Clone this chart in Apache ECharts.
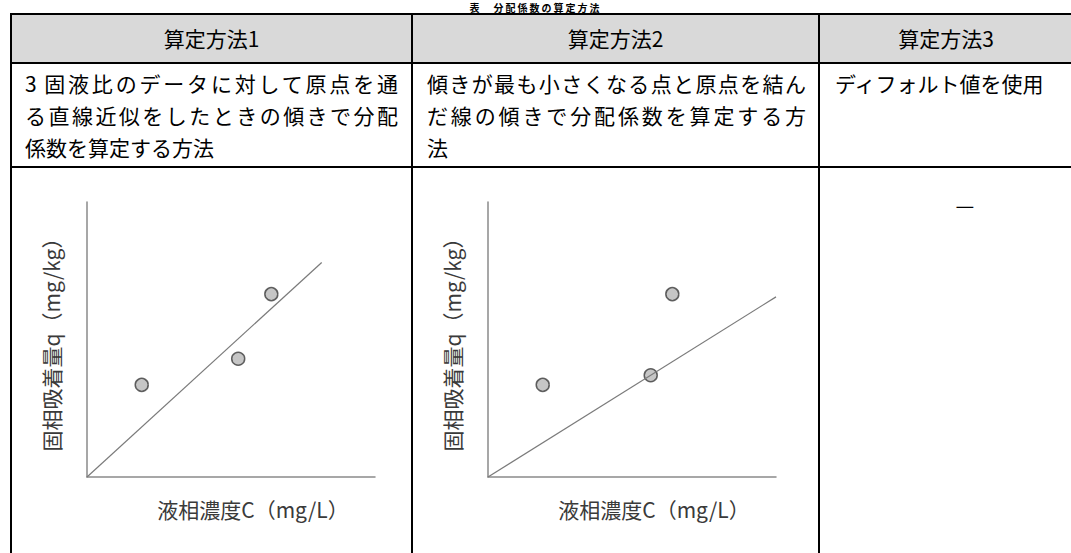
<!DOCTYPE html>
<html lang="ja">
<head>
<meta charset="utf-8">
<script src="https://cdn.jsdelivr.net/npm/echarts@6/dist/echarts.min.js"></script>
<style>
  html, body { margin: 0; padding: 0; background: #fff; }
  body { position: relative; width: 1071px; height: 553px; overflow: hidden;
         font-family: "Noto Sans CJK JP", sans-serif; color: #000; }
  .hline { position: absolute; left: 10px; right: 0; height: 2px; background: #000; }
  .vline { position: absolute; top: 13px; bottom: 0; width: 2px; background: #000; }
  .headbg { position: absolute; left: 12px; right: 0; top: 15px; height: 47px; background: #d9d9d9; }
  .txt { position: absolute; font-size: 21px; line-height: 32px; height: 32px; white-space: nowrap; }
  .just { text-align: justify; text-align-last: justify; }
  .center { text-align: center; }
  #title { position: absolute; left: 0; width: 1071px; top: 1px; font-size: 10px; line-height: 13px;
           text-align: center; font-weight: bold; letter-spacing: 2px; white-space: nowrap; }
  #chart { position: absolute; left: 0; top: 0; width: 1071px; height: 553px; }
</style>
</head>
<body>
<div id="title"></div>
<div class="headbg"></div>
<div class="hline" style="top:13px"></div>
<div class="hline" style="top:62px"></div>
<div class="hline" style="top:166px"></div>
<div class="vline" style="left:10px"></div>
<div class="vline" style="left:411px"></div>
<div class="vline" style="left:818px"></div>
<div id="cells"></div>
<div id="chart"></div>
<script>
// table texts
const titleText = '表　分配係数の算定方法';
const methodNames = ['算定方法1', '算定方法2', '算定方法3'];
const method1Lines = ['3 固液比のデータに対して原点を通', 'る直線近似をしたときの傾きで分配', '係数を算定する方法'];
const method2Lines = ['傾きが最も小さくなる点と原点を結ん', 'だ線の傾きで分配係数を算定する方', '法'];
const method3Lines = ['ディフォルト値を使用'];
const method3Chart = '—';

// chart values (arbitrary units, axes 0..10, no ticks)
const axisMax = 10;
const method1C = [1.9, 5.25, 6.4];
const method1Q = [3.35, 4.3, 6.65];
const method1FitC = [0, 8.15];
const method1FitQ = [0, 7.8];
const method2C = [1.9, 5.65, 6.4];
const method2Q = [3.35, 3.7, 6.65];
const method2FitC = [0, 10];
const method2FitQ = [0, 6.55];
const xName = '液相濃度C（mg/L）';
const yName = '固相吸着量q（mg/kg）';

document.getElementById('title').textContent = titleText;

const cells = document.getElementById('cells');
function addText(text, left, width, top, cls) {
  const d = document.createElement('div');
  d.className = 'txt ' + (cls || '');
  d.style.left = left + 'px';
  d.style.top = top + 'px';
  if (width) d.style.width = width + 'px';
  d.textContent = text;
  cells.appendChild(d);
}
const colLeft = [11, 412, 819];
const colRight = [412, 819, 1073];
methodNames.forEach((name, i) => {
  addText(name, colLeft[i], colRight[i] - colLeft[i], 22, 'center');
});
function addLines(lines, left, width) {
  lines.forEach((s, i) => {
    addText(s, left, width, 67 + i * 32, i < lines.length - 1 ? 'just' : '');
  });
}
addLines(method1Lines, 25, 373);
addLines(method2Lines, 427, 379);
addLines(method3Lines, 835, 0);
addText(method3Chart, 905, 120, 188, 'center');

const chart = echarts.init(document.getElementById('chart'), null, { renderer: 'svg' });

const axisLine = { show: true, lineStyle: { color: '#8a8a8a', width: 1.5 } };
const nameStyle = { color: '#3a3a3a', fontSize: 21, fontFamily: '"Noto Sans CJK JP", sans-serif' };

function makeAxes(gridIndex) {
  return {
    x: {
      type: 'value', gridIndex, min: 0, max: axisMax,
      axisLine, axisTick: { show: false }, axisLabel: { show: false }, splitLine: { show: false },
      name: xName, nameLocation: 'middle', nameGap: 21,
      nameTextStyle: Object.assign({ padding: [0, 0, 0, 44] }, nameStyle)
    },
    y: {
      type: 'value', gridIndex, min: 0, max: axisMax,
      axisLine, axisTick: { show: false }, axisLabel: { show: false }, splitLine: { show: false },
      name: yName, nameLocation: 'middle', nameGap: 26,
      nameTextStyle: nameStyle
    }
  };
}
const a0 = makeAxes(0);
const a1 = makeAxes(1);

function pairs(xs, ys) {
  return xs.map((x, i) => [x, ys[i]]);
}
const pointStyle = { color: '#b8b8b8', borderColor: '#3c3c3c', borderWidth: 1.5 };
const fitStyle = { color: '#7a7a7a', width: 1.2 };

chart.setOption({
  animation: false,
  grid: [
    { left: 87, top: 202, width: 288, height: 275 },
    { left: 488, top: 202, width: 288, height: 275 }
  ],
  xAxis: [a0.x, a1.x],
  yAxis: [a0.y, a1.y],
  series: [
    { type: 'line', xAxisIndex: 0, yAxisIndex: 0, data: pairs(method1FitC, method1FitQ),
      symbol: 'none', lineStyle: fitStyle, silent: true },
    { type: 'scatter', xAxisIndex: 0, yAxisIndex: 0, data: pairs(method1C, method1Q),
      symbolSize: 13, itemStyle: pointStyle },
    { type: 'line', xAxisIndex: 1, yAxisIndex: 1, data: pairs(method2FitC, method2FitQ),
      symbol: 'none', lineStyle: fitStyle, silent: true },
    { type: 'scatter', xAxisIndex: 1, yAxisIndex: 1, data: pairs(method2C, method2Q),
      symbolSize: 13, itemStyle: pointStyle }
  ]
});
</script>
</body>
</html>
